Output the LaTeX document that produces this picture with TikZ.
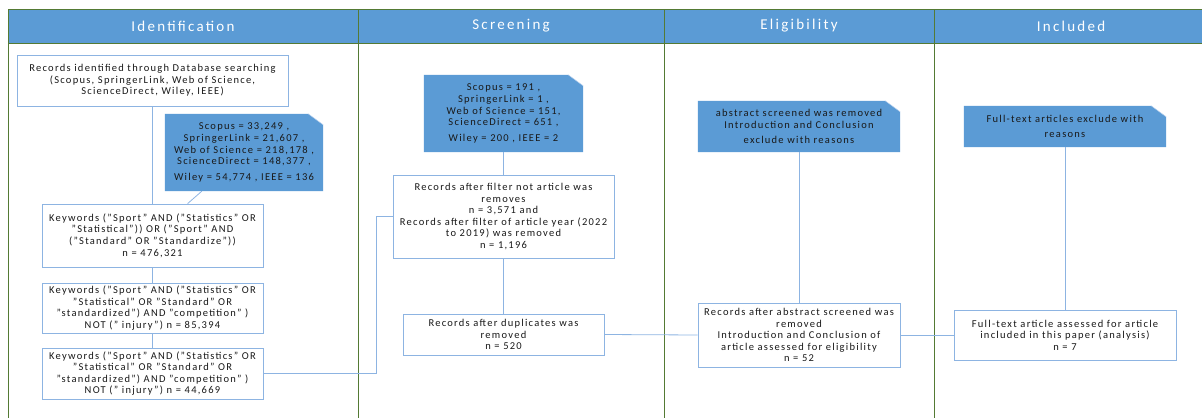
\documentclass[tikz,border=0pt]{standalone}
\usepackage{fontspec}
\setmainfont{Carlito}[LetterSpace=12]
\newfontfamily\hdrfont{Carlito}[LetterSpace=15]
\usetikzlibrary{calc,backgrounds}
\definecolor{hdrblue}{RGB}{91,155,213}
\definecolor{linblue}{RGB}{141,180,226}
\definecolor{colgreen}{RGB}{84,122,52}
\definecolor{txt}{RGB}{25,25,25}
\tikzset{
  box/.style={draw=linblue, line width=0.8pt, fill=white, align=center,
    font=\fontsize{10.5}{11.6}\selectfont, text=txt, inner sep=1pt},
  note/.style={align=center, font=\fontsize{10.5}{11.6}\selectfont, text=txt, inner sep=1pt},
  conn/.style={draw=linblue, line width=0.8pt},
  hdr/.style={font=\hdrfont\fontsize{15}{17}\selectfont, text=white},
  colline/.style={draw=colgreen, line width=0.9pt},
}
\newcommand{\notefill}[1]{%
  \fill[hdrblue] (#1.north west) -- ($(#1.north east)+(-15,0)$) -- ($(#1.north east)+(0,11)$) -- (#1.south east) -- (#1.south west) -- cycle;
  \draw[linblue!60, line width=0.5pt] ($(#1.north east)+(-15,0)$) -- ($(#1.north east)+(0,11)$);}
\begin{document}
\begin{tikzpicture}[x=1pt,y=-1pt]
\useasboundingbox (0,0) rectangle (1203,418);
% header band
\fill[hdrblue] (8,9) rectangle (1202,43);
\draw[colgreen, line width=0.9pt] (8,9) -- (1202,9) (8,43) -- (1202,43);
\foreach \x in {8,358,664,934} \draw[colline] (\x,9) -- (\x,418);
\node[hdr] (h1) at (183,26) {Identification};
\node[hdr] (h2) at (511,26) {Screening};
\node[hdr] (h3) at (799,26) {Eligibility};
\node[hdr] (h4) at (1071,26) {Included};

% Identification
\node[box, minimum width=271pt, minimum height=51pt] (A) at (152.5,80.5)
  {Records identified through Database searching\\(Scopus, SpringerLink, Web of Science,\\ScienceDirect, Wiley, IEEE)};
\node[note, minimum width=158pt, minimum height=77pt] (B) at (244,152.5)
  {Scopus = 33,249 ,\\SpringerLink = 21,607 ,\\Web of Science = 218,178 ,\\ScienceDirect = 148,377 ,\\[4pt]Wiley = 54,774 , IEEE = 136};
\node[box, minimum width=221pt, minimum height=63pt] (C) at (152.5,235.5)
  {Keywords ("Sport" AND ("Statistics" OR\\"Statistical")) OR ("Sport" AND\\("Standard" OR "Standardize"))\\n = 476,321};
\node[box, minimum width=221pt, minimum height=50pt] (D) at (152.5,308)
  {Keywords ("Sport" AND ("Statistics" OR\\"Statistical" OR "Standard" OR\\"standardized") AND "competition" )\\NOT (" injury") n = 85,394};
\node[box, minimum width=221pt, minimum height=51pt] (E) at (152.5,373.5)
  {Keywords ("Sport" AND ("Statistics" OR\\"Statistical" OR "Standard" OR\\"standardized") AND "competition" )\\NOT (" injury") n = 44,669};

% Screening
\node[note, minimum width=159pt, minimum height=77pt] (G) at (503.5,113.5)
  {Scopus = 191 ,\\SpringerLink = 1 ,\\Web of Science = 151,\\ScienceDirect = 651 ,\\[4pt]Wiley = 200 , IEEE = 2};
\node[box, minimum width=221pt, minimum height=83pt] (F) at (503.5,216.5)
  {Records after filter not article was\\removes\\n = 3,571 and\\Records after filter of article year (2022\\to 2019) was removed\\n = 1,196};
\node[box, minimum width=201pt, minimum height=41pt] (H) at (503.5,334.5)
  {Records after duplicates was\\removed\\n = 520};

% Eligibility
\node[note, minimum width=202pt, minimum height=51pt] (J) at (799,126.5)
  {abstract screened was removed\\Introduction and Conclusion\\[4pt]exclude with reasons};
\node[box, minimum width=202pt, minimum height=64pt] (I) at (799,335)
  {Records after abstract screened was\\removed\\Introduction and Conclusion of\\article assessed for eligibility\\n = 52};

% Included
\node[note, minimum width=202pt, minimum height=41pt] (L) at (1065,126.5)
  {Full-text articles exclude with\\[4pt]reasons};
\node[box, minimum width=222pt, minimum height=50pt] (K) at (1065,335)
  {Full-text article assessed for article\\included in this paper (analysis)\\n = 7};

\begin{scope}[on background layer]
  \notefill{B}\notefill{G}\notefill{J}\notefill{L}
\end{scope}

% connectors
\draw[conn] (A.south) -- (C.north);
\draw[conn] ($(B.south west)+(37,0)$) -- ($(C.north west)+(146,0)$);
\draw[conn] (C.south) -- (D.north);
\draw[conn] (D.south) -- (E.north);
\draw[conn] (E.east) -- ++(113,0) |- (F.west);
\draw[conn] (G.south) -- (F.north);
\draw[conn] (F.south) -- (H.north);
\draw[conn] (H.east) -- (I.west);
\draw[conn] (J.south) -- (I.north);
\draw[conn] (I.east) -- (K.west);
\draw[conn] (L.south) -- (K.north);
\end{tikzpicture}
\end{document}
